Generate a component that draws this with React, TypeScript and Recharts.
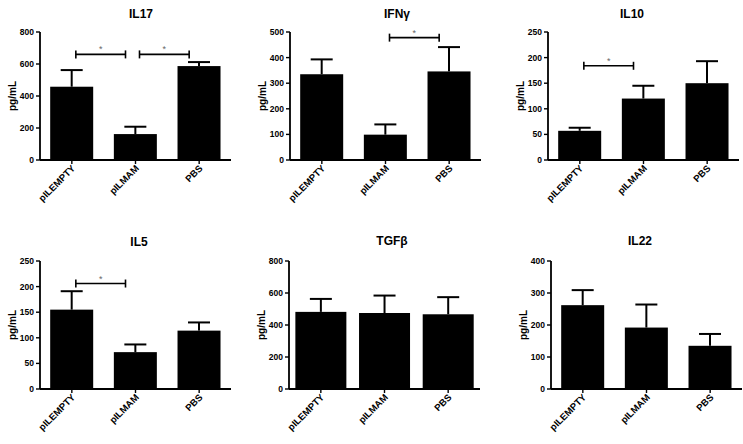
import { BarChart, Bar, XAxis, YAxis, ReferenceLine } from 'recharts';

const groups = ['pILEMPTY', 'pILMAM', 'PBS'];

// mean values (pg/mL) and upper SEM
const il17Means = [458, 162, 587];
const il17Errors = [104, 46, 25];
const il17Ticks = [0, 200, 400, 600, 800];
const il17Brackets: [string, string, number][] = [
  ['pILEMPTY', 'pILMAM', 660],
  ['pILMAM', 'PBS', 660],
];

const ifngMeans = [335, 99, 346];
const ifngErrors = [58, 40, 95];
const ifngTicks = [0, 100, 200, 300, 400, 500];
const ifngBrackets: [string, string, number][] = [['pILMAM', 'PBS', 478]];

const il10Means = [57, 120, 150];
const il10Errors = [6, 25, 43];
const il10Ticks = [0, 50, 100, 150, 200, 250];
const il10Brackets: [string, string, number][] = [['pILEMPTY', 'pILMAM', 184]];

const il5Means = [155, 72, 114];
const il5Errors = [36, 15, 16];
const il5Ticks = [0, 50, 100, 150, 200, 250];
const il5Brackets: [string, string, number][] = [['pILEMPTY', 'pILMAM', 206]];

const tgfbMeans = [482, 475, 467];
const tgfbErrors = [81, 109, 107];
const tgfbTicks = [0, 200, 400, 600, 800];

const il22Means = [262, 192, 135];
const il22Errors = [47, 72, 37];
const il22Ticks = [0, 100, 200, 300, 400];

interface Panel {
  title: string;
  means: number[];
  errors: number[];
  ticks: number[];
  brackets: [string, string, number][];
  left: number;
  top: number;
  marginTop: number;
  titleX: number;
  titleY: number;
  gap: string;
}

const panels: Panel[] = [
  { title: 'IL17', means: il17Means, errors: il17Errors, ticks: il17Ticks, brackets: il17Brackets, left: 0, top: 0, marginTop: 32, titleX: 141, titleY: 14, gap: '16%' },
  { title: 'IFNγ', means: ifngMeans, errors: ifngErrors, ticks: ifngTicks, brackets: ifngBrackets, left: 250, top: 0, marginTop: 32, titleX: 397, titleY: 14, gap: '16%' },
  { title: 'IL10', means: il10Means, errors: il10Errors, ticks: il10Ticks, brackets: il10Brackets, left: 508, top: 0, marginTop: 32, titleX: 632, titleY: 14, gap: '16%' },
  { title: 'IL5', means: il5Means, errors: il5Errors, ticks: il5Ticks, brackets: il5Brackets, left: 0, top: 222, marginTop: 39, titleX: 139, titleY: 242, gap: '16%' },
  { title: 'TGFβ', means: tgfbMeans, errors: tgfbErrors, ticks: tgfbTicks, brackets: [], left: 249, top: 222, marginTop: 39, titleX: 392, titleY: 241, gap: '10%' },
  { title: 'IL22', means: il22Means, errors: il22Errors, ticks: il22Ticks, brackets: [], left: 511, top: 222, marginTop: 39, titleX: 640, titleY: 241, gap: '16%' },
];

function XTick(props: any) {
  const { x, y, payload } = props;
  const ax = x + 4;
  const ay = y + 3;
  return (
    <text
      x={ax}
      y={ay}
      transform={`rotate(-45 ${ax} ${ay})`}
      textAnchor="end"
      fontSize={9.5}
      fontWeight="bold"
      fill="#000"
    >
      {payload.value}
    </text>
  );
}

// bar with a one-sided (upper) SEM whisker, scaled from the bar's own height
function BarWithError(props: any) {
  const { x, y, width, height, payload } = props;
  const perUnit = height / payload.value;
  const top = y - payload.err * perUnit;
  const cx = x + width / 2;
  return (
    <g>
      <rect x={x} y={y} width={width} height={height} fill="#000" />
      <line x1={cx} y1={y} x2={cx} y2={top} stroke="#000" strokeWidth={2} />
      <line x1={cx - 11} y1={top} x2={cx + 11} y2={top} stroke="#000" strokeWidth={2} />
    </g>
  );
}

function Bracket(props: any) {
  const { x1, x2, y1 } = props;
  const a = x1 + 4;
  const b = x2 - 10;
  return (
    <g>
      <line x1={a} y1={y1} x2={b} y2={y1} stroke="#000" strokeWidth={1.6} />
      <line x1={a} y1={y1 - 4} x2={a} y2={y1 + 4} stroke="#000" strokeWidth={1.6} />
      <line x1={b} y1={y1 - 4} x2={b} y2={y1 + 4} stroke="#000" strokeWidth={1.6} />
      <text x={(a + b) / 2} y={y1 - 2} textAnchor="middle" fontSize={9} fill="#666">
        *
      </text>
    </g>
  );
}

function YLabel(props: any) {
  const { viewBox } = props;
  const cx = 12;
  const cy = viewBox.y + viewBox.height / 2;
  return (
    <text
      x={cx}
      y={cy}
      transform={`rotate(-90 ${cx} ${cy})`}
      textAnchor="middle"
      dominantBaseline="central"
      fontSize={10}
      fontWeight="bold"
      fill="#000"
    >
      pg/mL
    </text>
  );
}

function CytokinePanel({ p }: { p: Panel }) {
  const rows = groups.map((g, i) => ({
    group: g,
    value: p.means[i],
    err: p.errors[i],
  }));
  const max = p.ticks[p.ticks.length - 1];
  return (
    <div style={{ position: 'absolute', left: p.left, top: p.top }}>
      <BarChart
        width={248}
        height={222}
        data={rows}
        barCategoryGap={p.gap}
        margin={{ top: p.marginTop, right: 17, left: 0, bottom: 0 }}
      >
        <XAxis
          dataKey="group"
          axisLine={{ stroke: '#000', strokeWidth: 1.8 }}
          tickLine={{ stroke: '#000', strokeWidth: 1.4 }}
          tickSize={4}
          height={222 - p.marginTop - 128}
          interval={0}
          tick={(t: any) => <XTick {...t} />}
        />
        <YAxis
          domain={[0, max]}
          ticks={p.ticks}
          interval={0}
          width={40}
          axisLine={{ stroke: '#000', strokeWidth: 1.8 }}
          tickLine={{ stroke: '#000', strokeWidth: 1.4 }}
          tickSize={4}
          tick={{ fontSize: 8.5, fontWeight: 'bold', fill: '#000' }}
          label={(l: any) => <YLabel {...l} />}
        />
        {p.brackets.map(([from, to, y], i) => (
          <ReferenceLine
            key={i}
            segment={[
              { x: from, y },
              { x: to, y },
            ]}
            shape={(s: any) => <Bracket {...s} />}
          />
        ))}
        <Bar
          dataKey="value"
          fill="#000"
          isAnimationActive={false}
          shape={(b: any) => <BarWithError {...b} />}
        />
      </BarChart>
      <div
        style={{
          position: 'absolute',
          left: p.titleX - p.left,
          top: p.titleY - p.top,
          transform: 'translate(-50%, -50%)',
          fontSize: 12,
          fontWeight: 'bold',
          whiteSpace: 'nowrap',
        }}
      >
        {p.title}
      </div>
    </div>
  );
}

export default function App() {
  return (
    <div
      style={{
        position: 'absolute',
        left: 0,
        top: 0,
        width: 743,
        height: 444,
        background: '#fff',
        fontFamily: '"Liberation Sans", Arial, sans-serif',
      }}
    >
      {panels.map((p) => (
        <CytokinePanel key={p.title} p={p} />
      ))}
    </div>
  );
}
